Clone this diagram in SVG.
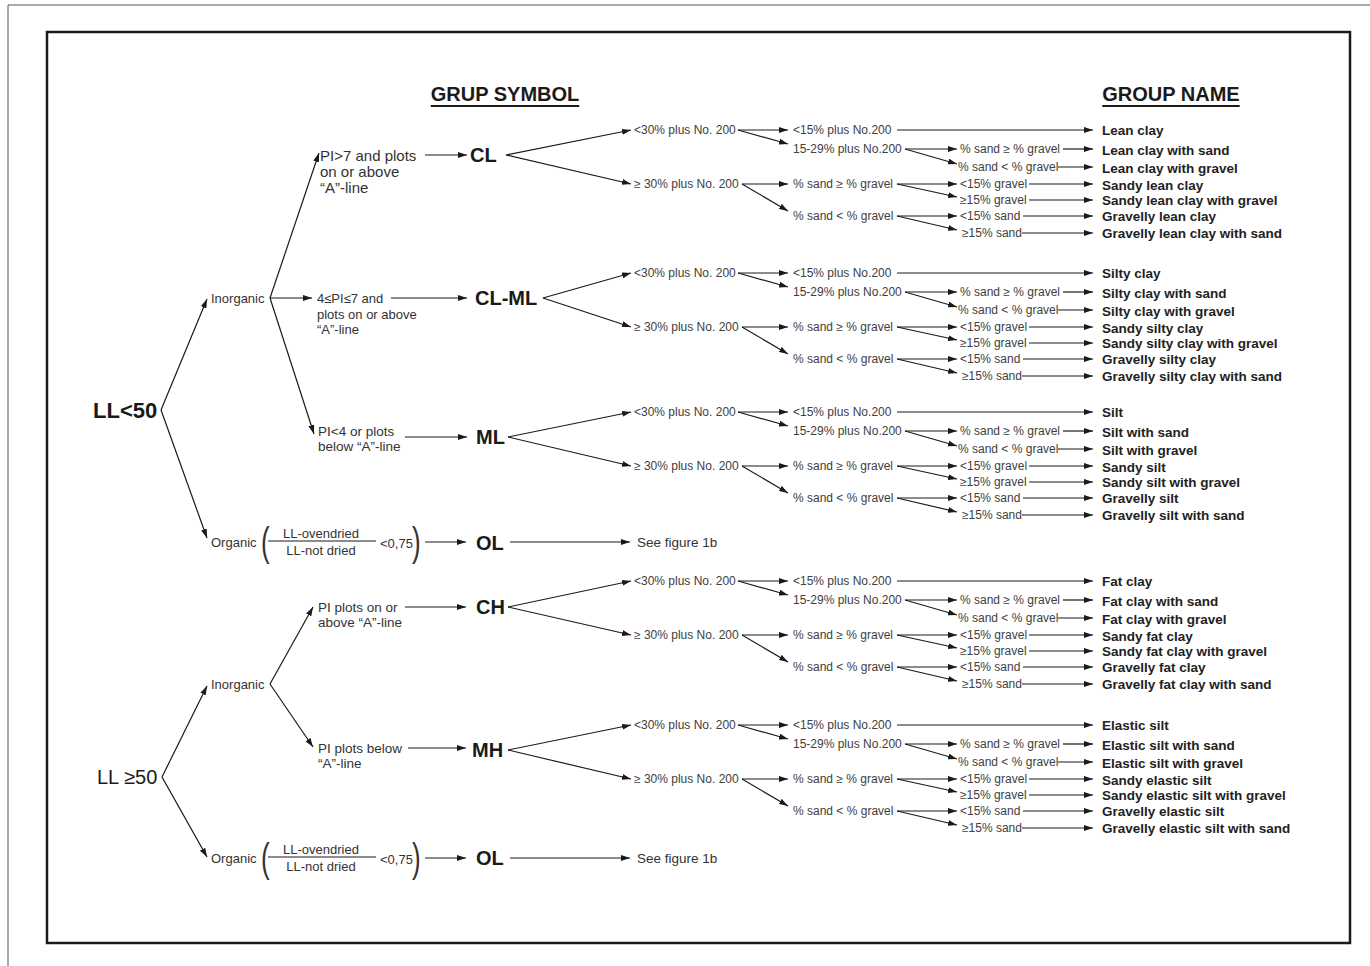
<svg xmlns="http://www.w3.org/2000/svg" width="1370" height="966" viewBox="0 0 1370 966">
<defs>
<marker id="ah" markerUnits="userSpaceOnUse" markerWidth="9" markerHeight="6" refX="9" refY="3" orient="auto" viewBox="0 0 9 6"><path d="M0,0 L9,3 L0,6 z" fill="#1a1a1a"/></marker>
</defs>
<style>
text{font-family:"Liberation Sans",Arial,sans-serif;dominant-baseline:central}
.s{font-size:12px;fill:#404040}
.n{font-size:13.5px;font-weight:bold;fill:#222}
.m{font-size:13px;fill:#333}
.p{font-size:15px;fill:#333}
.q{font-size:13.5px;fill:#333}
.sym{font-size:20px;font-weight:bold;fill:#1a1a1a}
.hd{font-size:20px;font-weight:bold;fill:#1a1a1a;text-decoration:underline;text-anchor:middle}
#connectors line{stroke:#1a1a1a;stroke-width:1.2;marker-end:url(#ah)}
.plain{stroke:#1a1a1a;stroke-width:1.1;fill:none}
</style>
<rect width="1370" height="966" fill="#fff"/>
<path d="M8,5 H1370 M8,5 V966" stroke="#555" stroke-width="1" fill="none"/>
<rect x="47" y="32" width="1303" height="911" fill="none" stroke="#1a1a1a" stroke-width="2.5"/>
<g id="headers">
<text class="hd" x="505" y="94">GRUP SYMBOL</text>
<text class="hd" x="1171" y="94">GROUP NAME</text>
</g>

<g id="connectors">
<!-- left part -->
<line x1="161" y1="410" x2="207" y2="299"/>
<line x1="161" y1="410" x2="207" y2="538"/>
<line x1="270" y1="298" x2="319" y2="153"/>
<line x1="270" y1="298" x2="312" y2="298"/>
<line x1="270" y1="298" x2="314" y2="434"/>
<line x1="425" y1="155" x2="467" y2="155"/>
<line x1="391" y1="298" x2="467" y2="298"/>
<line x1="405" y1="437" x2="467" y2="437"/>
<line x1="425" y1="542" x2="466" y2="542"/>
<line x1="510" y1="542" x2="630" y2="542"/>
<line x1="162" y1="777" x2="207" y2="686"/>
<line x1="162" y1="777" x2="207" y2="857"/>
<line x1="270" y1="684" x2="313" y2="607"/>
<line x1="270" y1="684" x2="313" y2="747"/>
<line x1="405" y1="607" x2="466" y2="607"/>
<line x1="408" y1="748" x2="466" y2="748"/>
<line x1="425" y1="858" x2="466" y2="858"/>
<line x1="510" y1="858" x2="630" y2="858"/>
<!-- CL -->
<g transform="translate(0,130)">
<line x1="506" y1="25" x2="631" y2="0"/><line x1="506" y1="25" x2="631" y2="54"/>
<line x1="738" y1="0" x2="788" y2="0"/><line x1="738" y1="0" x2="788" y2="14"/>
<line x1="742" y1="54" x2="788" y2="54"/><line x1="742" y1="54" x2="788" y2="81"/>
<line x1="897" y1="0" x2="1093" y2="0"/>
<line x1="905" y1="19" x2="957" y2="19"/><line x1="905" y1="19" x2="957" y2="34"/>
<line x1="897" y1="54" x2="957" y2="54"/><line x1="897" y1="54" x2="957" y2="67"/>
<line x1="897" y1="86" x2="957" y2="86"/><line x1="897" y1="86" x2="957" y2="100"/>
<line x1="1063" y1="19" x2="1093" y2="19"/><line x1="1058" y1="37" x2="1093" y2="37"/>
<line x1="1029" y1="54" x2="1093" y2="54"/><line x1="1029" y1="70" x2="1093" y2="70"/>
<line x1="1023" y1="86" x2="1093" y2="86"/><line x1="1022" y1="103" x2="1093" y2="103"/>
</g>
<!-- CL-ML -->
<g transform="translate(0,273)">
<line x1="543" y1="25" x2="631" y2="0"/><line x1="543" y1="25" x2="631" y2="54"/>
<line x1="738" y1="0" x2="788" y2="0"/><line x1="738" y1="0" x2="788" y2="14"/>
<line x1="742" y1="54" x2="788" y2="54"/><line x1="742" y1="54" x2="788" y2="81"/>
<line x1="897" y1="0" x2="1093" y2="0"/>
<line x1="905" y1="19" x2="957" y2="19"/><line x1="905" y1="19" x2="957" y2="34"/>
<line x1="897" y1="54" x2="957" y2="54"/><line x1="897" y1="54" x2="957" y2="67"/>
<line x1="897" y1="86" x2="957" y2="86"/><line x1="897" y1="86" x2="957" y2="100"/>
<line x1="1063" y1="19" x2="1093" y2="19"/><line x1="1058" y1="37" x2="1093" y2="37"/>
<line x1="1029" y1="54" x2="1093" y2="54"/><line x1="1029" y1="70" x2="1093" y2="70"/>
<line x1="1023" y1="86" x2="1093" y2="86"/><line x1="1022" y1="103" x2="1093" y2="103"/>
</g>
<!-- ML -->
<g transform="translate(0,412)">
<line x1="508" y1="25" x2="631" y2="0"/><line x1="508" y1="25" x2="631" y2="54"/>
<line x1="738" y1="0" x2="788" y2="0"/><line x1="738" y1="0" x2="788" y2="14"/>
<line x1="742" y1="54" x2="788" y2="54"/><line x1="742" y1="54" x2="788" y2="81"/>
<line x1="897" y1="0" x2="1093" y2="0"/>
<line x1="905" y1="19" x2="957" y2="19"/><line x1="905" y1="19" x2="957" y2="34"/>
<line x1="897" y1="54" x2="957" y2="54"/><line x1="897" y1="54" x2="957" y2="67"/>
<line x1="897" y1="86" x2="957" y2="86"/><line x1="897" y1="86" x2="957" y2="100"/>
<line x1="1063" y1="19" x2="1093" y2="19"/><line x1="1058" y1="37" x2="1093" y2="37"/>
<line x1="1029" y1="54" x2="1093" y2="54"/><line x1="1029" y1="70" x2="1093" y2="70"/>
<line x1="1023" y1="86" x2="1093" y2="86"/><line x1="1022" y1="103" x2="1093" y2="103"/>
</g>
<!-- CH -->
<g transform="translate(0,581)">
<line x1="508" y1="26" x2="631" y2="0"/><line x1="508" y1="26" x2="631" y2="54"/>
<line x1="738" y1="0" x2="788" y2="0"/><line x1="738" y1="0" x2="788" y2="14"/>
<line x1="742" y1="54" x2="788" y2="54"/><line x1="742" y1="54" x2="788" y2="81"/>
<line x1="897" y1="0" x2="1093" y2="0"/>
<line x1="905" y1="19" x2="957" y2="19"/><line x1="905" y1="19" x2="957" y2="34"/>
<line x1="897" y1="54" x2="957" y2="54"/><line x1="897" y1="54" x2="957" y2="67"/>
<line x1="897" y1="86" x2="957" y2="86"/><line x1="897" y1="86" x2="957" y2="100"/>
<line x1="1063" y1="19" x2="1093" y2="19"/><line x1="1058" y1="37" x2="1093" y2="37"/>
<line x1="1029" y1="54" x2="1093" y2="54"/><line x1="1029" y1="70" x2="1093" y2="70"/>
<line x1="1023" y1="86" x2="1093" y2="86"/><line x1="1022" y1="103" x2="1093" y2="103"/>
</g>
<!-- MH -->
<g transform="translate(0,725)">
<line x1="508" y1="25" x2="631" y2="0"/><line x1="508" y1="25" x2="631" y2="54"/>
<line x1="738" y1="0" x2="788" y2="0"/><line x1="738" y1="0" x2="788" y2="14"/>
<line x1="742" y1="54" x2="788" y2="54"/><line x1="742" y1="54" x2="788" y2="81"/>
<line x1="897" y1="0" x2="1093" y2="0"/>
<line x1="905" y1="19" x2="957" y2="19"/><line x1="905" y1="19" x2="957" y2="34"/>
<line x1="897" y1="54" x2="957" y2="54"/><line x1="897" y1="54" x2="957" y2="67"/>
<line x1="897" y1="86" x2="957" y2="86"/><line x1="897" y1="86" x2="957" y2="100"/>
<line x1="1063" y1="19" x2="1093" y2="19"/><line x1="1058" y1="37" x2="1093" y2="37"/>
<line x1="1029" y1="54" x2="1093" y2="54"/><line x1="1029" y1="70" x2="1093" y2="70"/>
<line x1="1023" y1="86" x2="1093" y2="86"/><line x1="1022" y1="103" x2="1093" y2="103"/>
</g>
</g>

<!-- left nodes -->
<g id="ll-lt50"><text x="93" y="410" font-size="22" font-weight="bold" fill="#1a1a1a">LL&lt;50</text></g>
<g id="ll-ge50"><text x="97" y="777" font-size="20" fill="#1a1a1a">LL ≥50</text></g>
<g id="inorganic-1"><text class="m" x="211" y="298">Inorganic</text></g>
<g id="organic-1">
<text class="m" x="211" y="542">Organic</text>
<text transform="translate(261,542) scale(1,1.55)" font-size="26" fill="#333">(</text>
<text class="m" x="321" y="533" text-anchor="middle">LL-ovendried</text>
<line class="plain" x1="268" y1="541" x2="376" y2="541"/>
<text class="m" x="321" y="550" text-anchor="middle">LL-not dried</text>
<text class="m" x="380" y="543">&lt;0,75</text>
<text transform="translate(412,542) scale(1,1.55)" font-size="26" fill="#333">)</text>
</g>
<g id="pi-gt7"><text class="p" x="320" y="155">PI&gt;7 and plots</text><text class="p" x="320" y="171">on or above</text><text class="p" x="320" y="187">“A”-line</text></g>
<g id="pi-4-7"><text class="m" x="317" y="298">4≤PI≤7 and</text><text class="m" x="317" y="314">plots on or above</text><text class="m" x="317" y="329">“A”-line</text></g>
<g id="pi-lt4"><text class="q" x="318" y="431">PI&lt;4 or plots</text><text class="q" x="318" y="446">below “A”-line</text></g>
<g id="sym-cl"><text class="sym" x="470" y="155">CL</text></g>
<g id="sym-clml"><text class="sym" x="475" y="298">CL-ML</text></g>
<g id="sym-ml"><text class="sym" x="476" y="437">ML</text></g>
<g id="sym-ol-1"><text class="sym" x="476" y="543">OL</text></g>
<g id="see-1b-1"><text class="q" x="637" y="542">See figure 1b</text></g>

<g id="inorganic-2"><text class="m" x="211" y="684">Inorganic</text></g>
<g id="pi-above"><text class="q" x="318" y="607">PI plots on or</text><text class="q" x="318" y="622">above “A”-line</text></g>
<g id="pi-below"><text class="q" x="318" y="748">PI plots below</text><text class="q" x="318" y="763">“A”-line</text></g>
<g id="sym-ch"><text class="sym" x="476" y="607">CH</text></g>
<g id="sym-mh"><text class="sym" x="472" y="750">MH</text></g>
<g id="organic-2">
<text class="m" x="211" y="858">Organic</text>
<text transform="translate(261,858) scale(1,1.55)" font-size="26" fill="#333">(</text>
<text class="m" x="321" y="849" text-anchor="middle">LL-ovendried</text>
<line class="plain" x1="268" y1="857" x2="376" y2="857"/>
<text class="m" x="321" y="866" text-anchor="middle">LL-not dried</text>
<text class="m" x="380" y="859">&lt;0,75</text>
<text transform="translate(412,858) scale(1,1.55)" font-size="26" fill="#333">)</text>
</g>
<g id="sym-ol-2"><text class="sym" x="476" y="858">OL</text></g>
<g id="see-1b-2"><text class="q" x="637" y="858">See figure 1b</text></g>

<!-- CL tree -->
<g id="cl-tree" transform="translate(0,130)">
<g id="cl-lt30"><text class="s" x="634" y="0">&lt;30% plus No. 200</text></g>
<g id="cl-ge30"><text class="s" x="634" y="54">≥ 30% plus No. 200</text></g>
<g id="cl-lt15"><text class="s" x="793" y="0">&lt;15% plus No.200</text></g>
<g id="cl-1529"><text class="s" x="793" y="19">15-29% plus No.200</text></g>
<g id="cl-sgeg"><text class="s" x="793" y="54">% sand ≥ % gravel</text></g>
<g id="cl-sltg"><text class="s" x="793" y="86">% sand &lt; % gravel</text></g>
<g id="cl-sgeg2"><text class="s" x="960" y="19">% sand ≥ % gravel</text></g>
<g id="cl-sltg2"><text class="s" x="958" y="37">% sand &lt; % gravel</text></g>
<g id="cl-g1"><text class="s" x="960" y="54">&lt;15% gravel</text></g>
<g id="cl-g2"><text class="s" x="960" y="70">≥15% gravel</text></g>
<g id="cl-s1"><text class="s" x="960" y="86">&lt;15% sand</text></g>
<g id="cl-s2"><text class="s" x="962" y="103">≥15% sand</text></g>
<g id="cl-n1"><text class="n" x="1102" y="0">Lean clay</text></g>
<g id="cl-n2"><text class="n" x="1102" y="20">Lean clay with sand</text></g>
<g id="cl-n3"><text class="n" x="1102" y="38">Lean clay with gravel</text></g>
<g id="cl-n4"><text class="n" x="1102" y="55">Sandy lean clay</text></g>
<g id="cl-n5"><text class="n" x="1102" y="70">Sandy lean clay with gravel</text></g>
<g id="cl-n6"><text class="n" x="1102" y="86">Gravelly lean clay</text></g>
<g id="cl-n7"><text class="n" x="1102" y="103">Gravelly lean clay with sand</text></g>
</g>

<!-- CL-ML tree -->
<g id="clml-tree" transform="translate(0,273)">
<g id="clml-lt30"><text class="s" x="634" y="0">&lt;30% plus No. 200</text></g>
<g id="clml-ge30"><text class="s" x="634" y="54">≥ 30% plus No. 200</text></g>
<g id="clml-lt15"><text class="s" x="793" y="0">&lt;15% plus No.200</text></g>
<g id="clml-1529"><text class="s" x="793" y="19">15-29% plus No.200</text></g>
<g id="clml-sgeg"><text class="s" x="793" y="54">% sand ≥ % gravel</text></g>
<g id="clml-sltg"><text class="s" x="793" y="86">% sand &lt; % gravel</text></g>
<g id="clml-sgeg2"><text class="s" x="960" y="19">% sand ≥ % gravel</text></g>
<g id="clml-sltg2"><text class="s" x="958" y="37">% sand &lt; % gravel</text></g>
<g id="clml-g1"><text class="s" x="960" y="54">&lt;15% gravel</text></g>
<g id="clml-g2"><text class="s" x="960" y="70">≥15% gravel</text></g>
<g id="clml-s1"><text class="s" x="960" y="86">&lt;15% sand</text></g>
<g id="clml-s2"><text class="s" x="962" y="103">≥15% sand</text></g>
<g id="clml-n1"><text class="n" x="1102" y="0">Silty clay</text></g>
<g id="clml-n2"><text class="n" x="1102" y="20">Silty clay with sand</text></g>
<g id="clml-n3"><text class="n" x="1102" y="38">Silty clay with gravel</text></g>
<g id="clml-n4"><text class="n" x="1102" y="55">Sandy silty clay</text></g>
<g id="clml-n5"><text class="n" x="1102" y="70">Sandy silty clay with gravel</text></g>
<g id="clml-n6"><text class="n" x="1102" y="86">Gravelly silty clay</text></g>
<g id="clml-n7"><text class="n" x="1102" y="103">Gravelly silty clay with sand</text></g>
</g>

<!-- ML tree -->
<g id="ml-tree" transform="translate(0,412)">
<g id="ml-lt30"><text class="s" x="634" y="0">&lt;30% plus No. 200</text></g>
<g id="ml-ge30"><text class="s" x="634" y="54">≥ 30% plus No. 200</text></g>
<g id="ml-lt15"><text class="s" x="793" y="0">&lt;15% plus No.200</text></g>
<g id="ml-1529"><text class="s" x="793" y="19">15-29% plus No.200</text></g>
<g id="ml-sgeg"><text class="s" x="793" y="54">% sand ≥ % gravel</text></g>
<g id="ml-sltg"><text class="s" x="793" y="86">% sand &lt; % gravel</text></g>
<g id="ml-sgeg2"><text class="s" x="960" y="19">% sand ≥ % gravel</text></g>
<g id="ml-sltg2"><text class="s" x="958" y="37">% sand &lt; % gravel</text></g>
<g id="ml-g1"><text class="s" x="960" y="54">&lt;15% gravel</text></g>
<g id="ml-g2"><text class="s" x="960" y="70">≥15% gravel</text></g>
<g id="ml-s1"><text class="s" x="960" y="86">&lt;15% sand</text></g>
<g id="ml-s2"><text class="s" x="962" y="103">≥15% sand</text></g>
<g id="ml-n1"><text class="n" x="1102" y="0">Silt</text></g>
<g id="ml-n2"><text class="n" x="1102" y="20">Silt with sand</text></g>
<g id="ml-n3"><text class="n" x="1102" y="38">Silt with gravel</text></g>
<g id="ml-n4"><text class="n" x="1102" y="55">Sandy silt</text></g>
<g id="ml-n5"><text class="n" x="1102" y="70">Sandy silt with gravel</text></g>
<g id="ml-n6"><text class="n" x="1102" y="86">Gravelly silt</text></g>
<g id="ml-n7"><text class="n" x="1102" y="103">Gravelly silt with sand</text></g>
</g>

<!-- CH tree -->
<g id="ch-tree" transform="translate(0,581)">
<g id="ch-lt30"><text class="s" x="634" y="0">&lt;30% plus No. 200</text></g>
<g id="ch-ge30"><text class="s" x="634" y="54">≥ 30% plus No. 200</text></g>
<g id="ch-lt15"><text class="s" x="793" y="0">&lt;15% plus No.200</text></g>
<g id="ch-1529"><text class="s" x="793" y="19">15-29% plus No.200</text></g>
<g id="ch-sgeg"><text class="s" x="793" y="54">% sand ≥ % gravel</text></g>
<g id="ch-sltg"><text class="s" x="793" y="86">% sand &lt; % gravel</text></g>
<g id="ch-sgeg2"><text class="s" x="960" y="19">% sand ≥ % gravel</text></g>
<g id="ch-sltg2"><text class="s" x="958" y="37">% sand &lt; % gravel</text></g>
<g id="ch-g1"><text class="s" x="960" y="54">&lt;15% gravel</text></g>
<g id="ch-g2"><text class="s" x="960" y="70">≥15% gravel</text></g>
<g id="ch-s1"><text class="s" x="960" y="86">&lt;15% sand</text></g>
<g id="ch-s2"><text class="s" x="962" y="103">≥15% sand</text></g>
<g id="ch-n1"><text class="n" x="1102" y="0">Fat clay</text></g>
<g id="ch-n2"><text class="n" x="1102" y="20">Fat clay with sand</text></g>
<g id="ch-n3"><text class="n" x="1102" y="38">Fat clay with gravel</text></g>
<g id="ch-n4"><text class="n" x="1102" y="55">Sandy fat clay</text></g>
<g id="ch-n5"><text class="n" x="1102" y="70">Sandy fat clay with gravel</text></g>
<g id="ch-n6"><text class="n" x="1102" y="86">Gravelly fat clay</text></g>
<g id="ch-n7"><text class="n" x="1102" y="103">Gravelly fat clay with sand</text></g>
</g>

<!-- MH tree -->
<g id="mh-tree" transform="translate(0,725)">
<g id="mh-lt30"><text class="s" x="634" y="0">&lt;30% plus No. 200</text></g>
<g id="mh-ge30"><text class="s" x="634" y="54">≥ 30% plus No. 200</text></g>
<g id="mh-lt15"><text class="s" x="793" y="0">&lt;15% plus No.200</text></g>
<g id="mh-1529"><text class="s" x="793" y="19">15-29% plus No.200</text></g>
<g id="mh-sgeg"><text class="s" x="793" y="54">% sand ≥ % gravel</text></g>
<g id="mh-sltg"><text class="s" x="793" y="86">% sand &lt; % gravel</text></g>
<g id="mh-sgeg2"><text class="s" x="960" y="19">% sand ≥ % gravel</text></g>
<g id="mh-sltg2"><text class="s" x="958" y="37">% sand &lt; % gravel</text></g>
<g id="mh-g1"><text class="s" x="960" y="54">&lt;15% gravel</text></g>
<g id="mh-g2"><text class="s" x="960" y="70">≥15% gravel</text></g>
<g id="mh-s1"><text class="s" x="960" y="86">&lt;15% sand</text></g>
<g id="mh-s2"><text class="s" x="962" y="103">≥15% sand</text></g>
<g id="mh-n1"><text class="n" x="1102" y="0">Elastic silt</text></g>
<g id="mh-n2"><text class="n" x="1102" y="20">Elastic silt with sand</text></g>
<g id="mh-n3"><text class="n" x="1102" y="38">Elastic silt with gravel</text></g>
<g id="mh-n4"><text class="n" x="1102" y="55">Sandy elastic silt</text></g>
<g id="mh-n5"><text class="n" x="1102" y="70">Sandy elastic silt with gravel</text></g>
<g id="mh-n6"><text class="n" x="1102" y="86">Gravelly elastic silt</text></g>
<g id="mh-n7"><text class="n" x="1102" y="103">Gravelly elastic silt with sand</text></g>
</g>
</svg>
